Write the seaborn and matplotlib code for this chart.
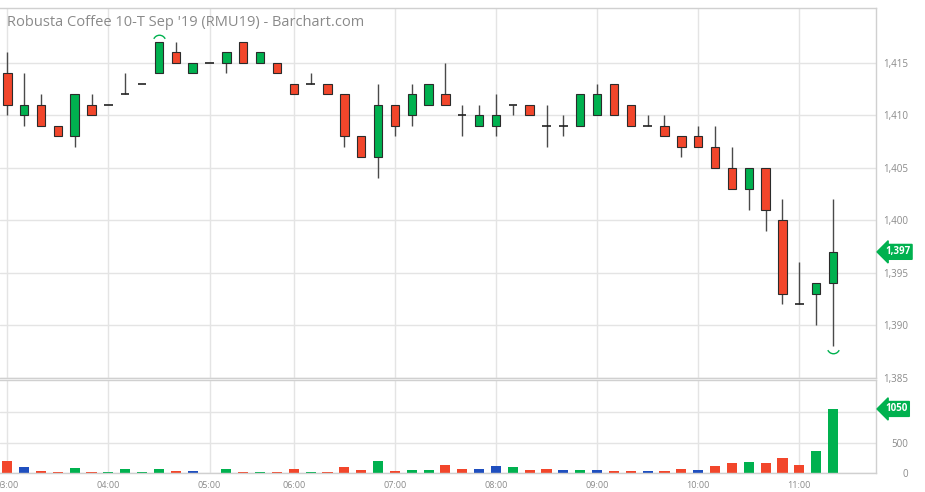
import numpy as np
import pandas as pd
import matplotlib.pyplot as plt
import matplotlib.path as mpath
import seaborn as sns

# 10-minute bars, RMU19 (one empty slot between 05:00 and 06:00)
opens = [1414, 1410, 1411, 1409, 1408, 1411, 1411, 1412, 1413, 1414, 1416, 1414, 1415, 1415, 1417, 1415, 1415,
         1413, 1413, 1413, 1412, 1408, 1406, 1411, 1410, 1411, 1412, 1410, 1409, 1409, 1411, 1411, 1409, 1409,
         1409, 1410, 1413, 1411, 1409, 1409, 1408, 1408, 1407, 1405, 1403, 1405, 1400, 1392, 1393, 1394]
highs = [1416, 1414, 1412, 1409, 1412, 1412, 1411, 1414, 1413, 1417, 1417, 1415, 1415, 1416, 1417, 1416, 1415,
         1413, 1414, 1413, 1412, 1408, 1413, 1411, 1413, 1413, 1415, 1411, 1411, 1412, 1411, 1411, 1411, 1410,
         1412, 1413, 1413, 1411, 1410, 1410, 1408, 1409, 1409, 1407, 1405, 1405, 1402, 1396, 1394, 1402]
lows = [1410, 1409, 1409, 1408, 1407, 1410, 1411, 1412, 1413, 1414, 1415, 1414, 1415, 1414, 1415, 1415, 1414,
        1412, 1413, 1412, 1407, 1406, 1404, 1408, 1409, 1411, 1411, 1408, 1409, 1408, 1410, 1410, 1407, 1408,
        1409, 1410, 1410, 1409, 1409, 1408, 1406, 1407, 1405, 1403, 1401, 1399, 1392, 1392, 1390, 1388]
closes = [1411, 1411, 1409, 1408, 1412, 1410, 1411, 1412, 1413, 1417, 1415, 1415, 1415, 1416, 1415, 1416, 1414,
          1412, 1413, 1412, 1408, 1406, 1411, 1409, 1412, 1413, 1411, 1410, 1410, 1410, 1411, 1410, 1409, 1409,
          1412, 1412, 1410, 1409, 1409, 1408, 1407, 1407, 1405, 1403, 1405, 1401, 1393, 1392, 1394, 1397]
volumes = [190, 98, 38, 22, 87, 22, 22, 60, 22, 71, 38, 38, 3, 60, 22, 22, 22, 60, 22, 22, 103, 54, 196, 38,
           54, 54, 125, 71, 71, 114, 98, 49, 60, 49, 49, 49, 38, 38, 38, 38, 60, 49, 114, 163, 174, 163, 245,
           136, 364, 1050]
prev_close = 1412

hour_pos = [0, 6, 12, 17, 23, 29, 35, 41, 47]
hour_labels = ["03:00", "04:00", "05:00", "06:00", "07:00", "08:00", "09:00", "10:00", "11:00"]
price_ticks = [1385, 1390, 1395, 1400, 1405, 1410, 1415]
vol_ticks = [0, 500, 1000]
vol_tick_labels = ["0", "500", ""]

title = "Robusta Coffee 10-T Sep '19 (RMU19) - Barchart.com"

RED = "#f2462b"
GREEN = "#00b14f"
BLUE = "#1f4fbf"
GRID = "#e4e4e4"
TXT = "#8a8a8a"

sns.set_theme(style="white")
plt.rcParams["font.family"] = ["Open Sans", "DejaVu Sans"]

o = np.array(opens)
h = np.array(highs)
l = np.array(lows)
c = np.array(closes)
idx = np.arange(len(o))

fig = plt.figure(figsize=(9.25, 4.92), dpi=100)
ax = fig.add_axes([0, 0.2317, 0.947, 0.752])
axv = fig.add_axes([0, 0.0386, 0.947, 0.189])

# candles
up = c > o
down = c < o
flat = c == o
ax.vlines(idx, l, h, color="#4a4a4a", lw=1, zorder=2)
ax.bar(idx[up], (c - o)[up], bottom=o[up], width=0.5, color=GREEN, edgecolor="#2b2b2b", lw=0.8, zorder=3)
ax.bar(idx[down], (o - c)[down], bottom=c[down], width=0.5, color=RED, edgecolor="#2b2b2b", lw=0.8, zorder=3)
ax.hlines(c[flat], idx[flat] - 0.25, idx[flat] + 0.25, color="#222222", lw=1.2, zorder=3)

# high / low markers
top_arc = mpath.Path.arc(25, 155)
bot_arc = mpath.Path.arc(205, 335)
hi = int(np.argmax(h))
lo = int(np.argmin(l))
ax.plot(idx[hi], h[hi] + 0.05, marker=top_arc, ms=9, mfc="none", mec=GREEN, mew=1, zorder=4)
ax.plot(idx[lo], l[lo] - 0.05, marker=bot_arc, ms=9, mfc="none", mec=GREEN, mew=1, zorder=4)

# volume bars coloured by close vs previous close
prev = np.concatenate([[prev_close], c[:-1]])
vol_dir = np.where(c > prev, "up", np.where(c < prev, "down", "flat"))
vol_df = pd.DataFrame({"idx": idx, "volume": volumes, "dir": vol_dir})
sns.barplot(data=vol_df, x="idx", y="volume", hue="dir", palette={"up": GREEN, "down": RED, "flat": BLUE},
            native_scale=True, dodge=False, width=0.6, errorbar=None, legend=False, linewidth=0,
            saturation=1, ax=axv)

for a in (ax, axv):
    a.set_xlim(-0.433, 51.55)
    a.set_xticks(hour_pos)
    a.grid(True, color=GRID, lw=1)
    a.set_axisbelow(True)
    a.yaxis.tick_right()
    a.tick_params(axis="both", length=0, labelsize=6.5, labelcolor=TXT)
    a.tick_params(axis="y", pad=23, labelsize=7)
    a.spines["left"].set_visible(False)
    for s in ("top", "right", "bottom"):
        a.spines[s].set_color("#d0d0d0")
        a.spines[s].set_linewidth(1)
    a.set_xlabel("")
    a.set_ylabel("")

ax.set_ylim(1385, 1420.2)
ax.set_yticks(price_ticks)
ax.set_yticklabels([f"{p:,}" for p in price_ticks])
ax.set_xticklabels([])

axv.set_ylim(0, 1524)
axv.set_yticks(vol_ticks)
axv.set_yticklabels(vol_tick_labels)
axv.set_xticklabels(hour_labels)
axv.tick_params(axis="x", pad=6)

for a in (ax, axv):
    for lab in a.get_yticklabels():
        lab.set_horizontalalignment("right")

# last value badges
badge = dict(boxstyle="larrow,pad=0.2", fc=GREEN, ec=GREEN)
ax.annotate(f"{c[-1]:,}", xy=(1, c[-1]), xycoords=("axes fraction", "data"), xytext=(6.5, 0),
            textcoords="offset points", ha="left", va="center", color="white", fontsize=7,
            fontweight="bold", bbox=badge)
axv.annotate(f"{volumes[-1]}", xy=(1, volumes[-1]), xycoords=("axes fraction", "data"), xytext=(6.5, 0),
             textcoords="offset points", ha="left", va="center", color="white", fontsize=7,
             fontweight="bold", bbox=badge)

fig.text(7 / 925, 1 - 22 / 492, title, color=TXT, fontsize=10.5, va="center", ha="left")

fig.savefig("out.png", dpi=100)
